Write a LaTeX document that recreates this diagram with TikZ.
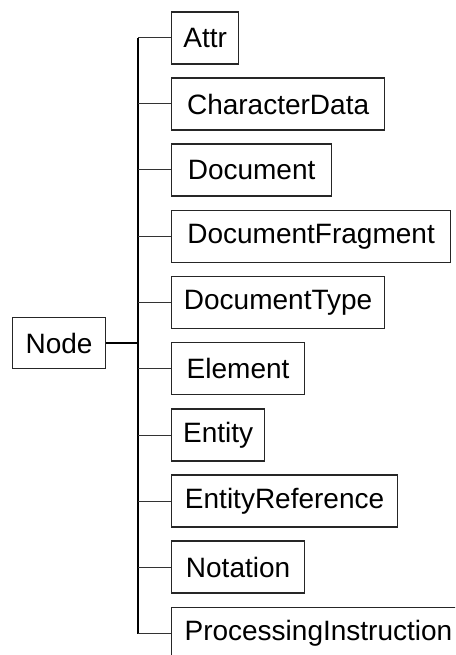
\documentclass[tikz,border=0pt]{standalone}
\usepackage{fontspec}
\setmainfont{Liberation Sans}
\begin{document}
\begin{tikzpicture}[x=0.75pt,y=-0.75pt,
    classbox/.style={draw=black!85,line width=0.9pt,anchor=west,inner sep=0pt,
        minimum height=39pt,font=\fontsize{21}{25}\selectfont},
    link/.style={draw=black!80,line width=0.75pt}]
    \useasboundingbox (0,0) rectangle (455,655);
    \clip (0,0) rectangle (455,655);
    \node[classbox,minimum width=69.75pt,minimum height=38.25pt] (node) at (12,343) {Node};
    \coordinate (spine) at (138,343);
    \node[classbox,minimum width=50.25pt] (attr) at (171,38) {Attr};
    \node[classbox,minimum width=159.75pt] (chardata) at (171,104) {CharacterData};
    \node[classbox,minimum width=120pt] (doc) at (171,170) {Document};
    \node[classbox,minimum width=209.25pt] (docfrag) at (171,236.5) {DocumentFragment};
    \node[classbox,minimum width=159.75pt] (doctype) at (171,302.5) {DocumentType};
    \node[classbox,minimum width=99.75pt] (elem) at (171,368.5) {Element};
    \node[classbox,minimum width=69.75pt] (entity) at (171,435) {Entity};
    \node[classbox,minimum width=169.5pt] (entref) at (171,501) {EntityReference};
    \node[classbox,minimum width=99.75pt] (notation) at (171,567) {Notation};
    \node[classbox,inner xsep=9.75pt,text width=210pt,align=left] (procinst) at (171,633.5) {ProcessingInstruction};
    % tree lines
    \draw[link,line width=1.4pt,draw=black] (node.east) -- (spine);
    \draw[link,line width=1.1pt,draw=black] (attr.west -| spine) -- (procinst.west -| spine);
    \draw[link] (attr.west) -- (attr.west -| spine);
    \draw[link] (chardata.west) -- (chardata.west -| spine);
    \draw[link] (doc.west) -- (doc.west -| spine);
    \draw[link] (docfrag.west) -- (docfrag.west -| spine);
    \draw[link] (doctype.west) -- (doctype.west -| spine);
    \draw[link] (elem.west) -- (elem.west -| spine);
    \draw[link] (entity.west) -- (entity.west -| spine);
    \draw[link] (entref.west) -- (entref.west -| spine);
    \draw[link] (notation.west) -- (notation.west -| spine);
    \draw[link] (procinst.west) -- (procinst.west -| spine);
\end{tikzpicture}
\end{document}
